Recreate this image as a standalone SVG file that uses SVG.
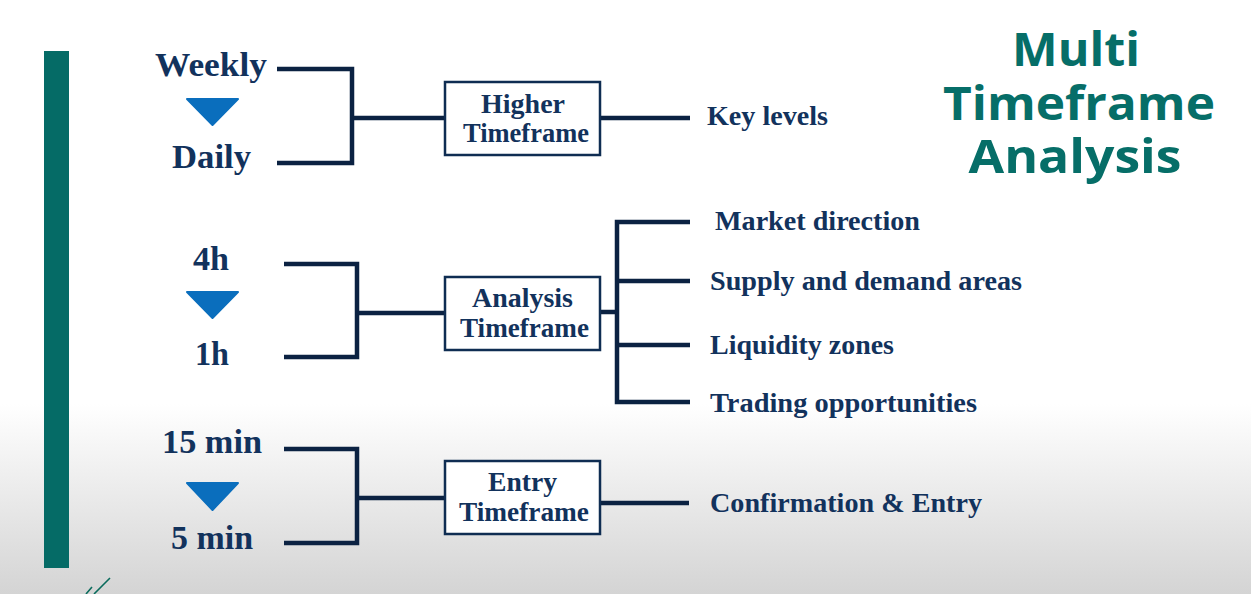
<svg xmlns="http://www.w3.org/2000/svg" width="1251" height="594" viewBox="0 0 1251 594">
<defs>
<linearGradient id="bg" x1="0" y1="0" x2="0" y2="1">
<stop offset="0" stop-color="#ffffff"/>
<stop offset="0.68" stop-color="#ffffff"/>
<stop offset="1" stop-color="#d4d4d4"/>
</linearGradient>
<style>
.lbl{font-family:"Liberation Serif","Times New Roman",serif;font-weight:bold;fill:#12325c}
.big{font-size:33px}
.mid{font-size:28px}
.box{fill:#ffffff;stroke:#0f2d52;stroke-width:2.5}
.con{fill:none;stroke:#0b2242;stroke-width:4.5;stroke-linecap:butt;stroke-linejoin:miter}
.tri{fill:#0a6ebd;stroke:#0a6ebd;stroke-width:2;stroke-linejoin:round}
.title{font-family:"Open Sans","Noto Sans",sans-serif;font-weight:bold;font-size:46px;fill:#066e68;text-anchor:middle}
</style>
</defs>
<rect x="0" y="0" width="1251" height="594" fill="url(#bg)"/>
<rect id="sidebar" x="44" y="51" width="25" height="517" fill="#056b66"/>
<path id="logo" d="M86 594 L92 587 M94 594 L110 578" fill="none" stroke="#0a6b5c" stroke-width="1.6"/>

<g id="title">
<text class="title" x="1076" y="66" textLength="128" lengthAdjust="spacingAndGlyphs">Multi</text>
<text class="title" x="1079" y="120" textLength="272" lengthAdjust="spacingAndGlyphs">Timeframe</text>
<text class="title" x="1075" y="173" textLength="213" lengthAdjust="spacingAndGlyphs">Analysis</text>
</g>

<g id="connectors">
<path class="con" d="M277 69 H352 V163 H277"/>
<path class="con" d="M352 118 H445"/>
<path class="con" d="M601 118 H690"/>
<path class="con" d="M284 264 H357 V357 H284"/>
<path class="con" d="M357 313 H445"/>
<path class="con" d="M601 312 H617"/>
<path class="con" d="M690 222 H617 V402 H690"/>
<path class="con" d="M617 281 H690"/>
<path class="con" d="M617 345 H690"/>
<path class="con" d="M284 449 H357 V543 H284"/>
<path class="con" d="M357 498 H445"/>
<path class="con" d="M601 503 H689"/>
</g>

<g id="weekly"><text class="lbl big" x="155" y="76" textLength="112" lengthAdjust="spacingAndGlyphs">Weekly</text></g>
<g id="arrow1"><polygon class="tri" points="187,99 238,99 212.5,125"/></g>
<g id="daily"><text class="lbl big" x="172" y="168" textLength="79" lengthAdjust="spacingAndGlyphs">Daily</text></g>

<g id="h4"><text class="lbl big" x="193" y="270" textLength="36" lengthAdjust="spacingAndGlyphs">4h</text></g>
<g id="arrow2"><polygon class="tri" points="187,292 238,292 212.5,318"/></g>
<g id="h1"><text class="lbl big" x="195" y="365" textLength="34" lengthAdjust="spacingAndGlyphs">1h</text></g>

<g id="m15"><text class="lbl big" x="162" y="453" textLength="100" lengthAdjust="spacingAndGlyphs">15 min</text></g>
<g id="arrow3"><polygon class="tri" points="187,483 238,483 212.5,510"/></g>
<g id="m5"><text class="lbl big" x="171" y="549" textLength="82" lengthAdjust="spacingAndGlyphs">5 min</text></g>

<g id="higher">
<rect class="box" x="445" y="82" width="155" height="73"/>
<text class="lbl mid" x="481" y="113" textLength="84" lengthAdjust="spacingAndGlyphs">Higher</text>
<text class="lbl mid" x="463" y="142" textLength="126" lengthAdjust="spacingAndGlyphs">Timeframe</text>
</g>
<g id="analysis">
<rect class="box" x="445" y="277" width="155" height="73"/>
<text class="lbl mid" x="472" y="307" textLength="101" lengthAdjust="spacingAndGlyphs">Analysis</text>
<text class="lbl mid" x="460" y="337" textLength="129" lengthAdjust="spacingAndGlyphs">Timeframe</text>
</g>
<g id="entry">
<rect class="box" x="445" y="461" width="155" height="73"/>
<text class="lbl mid" x="488" y="491" textLength="69" lengthAdjust="spacingAndGlyphs">Entry</text>
<text class="lbl mid" x="459" y="521" textLength="130" lengthAdjust="spacingAndGlyphs">Timeframe</text>
</g>

<g id="keylevels"><text class="lbl mid" x="707" y="125" textLength="121" lengthAdjust="spacingAndGlyphs">Key levels</text></g>
<g id="market"><text class="lbl mid" x="715" y="230" textLength="205" lengthAdjust="spacingAndGlyphs">Market direction</text></g>
<g id="supply"><text class="lbl mid" x="710" y="290" textLength="312" lengthAdjust="spacingAndGlyphs">Supply and demand areas</text></g>
<g id="liquidity"><text class="lbl mid" x="710" y="354" textLength="184" lengthAdjust="spacingAndGlyphs">Liquidity zones</text></g>
<g id="trading"><text class="lbl mid" x="710" y="412" textLength="267" lengthAdjust="spacingAndGlyphs">Trading opportunities</text></g>
<g id="confirm"><text class="lbl mid" x="710" y="512" textLength="272" lengthAdjust="spacingAndGlyphs">Confirmation &amp; Entry</text></g>
</svg>
